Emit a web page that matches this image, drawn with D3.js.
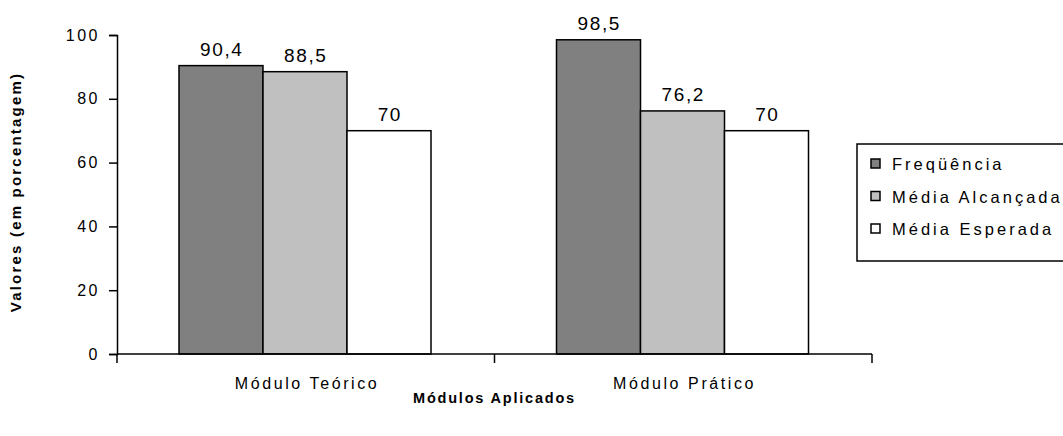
<!DOCTYPE html>
<html>
<head>
<meta charset="utf-8">
<script src="https://cdn.jsdelivr.net/npm/d3@7"></script>
<style>
  body { margin: 0; background: #fff; }
  text { font-family: "Liberation Sans", Arial, sans-serif; fill: #000; }
</style>
</head>
<body>
<div id="chart"></div>
<script>
const width = 1063,
    height = 436;

// data
const categories = ["Módulo Teórico", "Módulo Prático"];
const series = ["Freqüência", "Média Alcançada", "Média Esperada"];
const freq = [90.4, 98.5];
const alcancada = [88.5, 76.2];
const esperada = [70, 70];
const yTicks = [0, 20, 40, 60, 80, 100];

const colors = ["#808080", "#c0c0c0", "#ffffff"];
const values = [freq, alcancada, esperada];

const margin = {left: 117, right: 191, top: 35, bottom: 82};

const svg = d3.select("#chart")
  .append("svg")
  .attr("width", width)
  .attr("height", height);

const x0 = d3.scaleBand()
  .domain(categories)
  .range([margin.left, width - margin.right]);

const x1 = d3.scaleBand()
  .domain(series)
  .range([62, 62 + 84 * 3]);

const y = d3.scaleLinear()
  .domain([0, 100])
  .range([height - margin.bottom, margin.top]);

// bars
const rows = [];
categories.forEach((c, i) => {
  series.forEach((s, j) => {
    rows.push({cat: c, ser: s, val: values[j][i], color: colors[j]});
  });
});

svg.selectAll(".bar")
  .data(rows)
  .enter().append("rect")
  .attr("class", "bar")
  .attr("x", d => x0(d.cat) + x1(d.ser))
  .attr("y", d => y(d.val))
  .attr("width", x1.bandwidth())
  .attr("height", d => y(0) - y(d.val))
  .attr("fill", d => d.color)
  .attr("stroke", "#000")
  .attr("stroke-width", 1.5);

svg.selectAll(".lbl")
  .data(rows)
  .enter().append("text")
  .attr("class", "lbl")
  .attr("x", d => x0(d.cat) + x1(d.ser) + x1.bandwidth() / 2 + 0.8)
  .attr("y", d => y(d.val) - 10)
  .attr("text-anchor", "middle")
  .attr("font-size", 19)
  .attr("letter-spacing", 1.6)
  .text(d => String(d.val).replace(".", ","));

// y axis
const yAxis = svg.append("g")
  .attr("transform", `translate(${margin.left},0)`)
  .call(d3.axisLeft(y).tickValues(yTicks).tickSize(8).tickPadding(9));
yAxis.select(".domain").attr("stroke-width", 1.5);
yAxis.selectAll(".tick line").attr("stroke-width", 1.5);
yAxis.selectAll("text")
  .attr("font-size", 16)
  .attr("letter-spacing", 2.5)
  .attr("font-family", "Liberation Sans, Arial, sans-serif")
  .attr("fill", "#000");

// x axis
const xg = svg.append("g")
  .attr("transform", `translate(0,${y(0)})`);
xg.append("line")
  .attr("x1", margin.left).attr("x2", width - margin.right)
  .attr("stroke", "#000").attr("stroke-width", 1.5);
const bounds = [margin.left].concat(categories.map(c => x0(c) + x0.bandwidth()));
xg.selectAll(".xt")
  .data(bounds)
  .enter().append("line")
  .attr("x1", d => d).attr("x2", d => d)
  .attr("y1", 0).attr("y2", 9)
  .attr("stroke", "#000").attr("stroke-width", 1.5);
xg.selectAll(".xl")
  .data(categories)
  .enter().append("text")
  .attr("x", d => x0(d) + x0.bandwidth() / 2 + 1.3)
  .attr("y", 35)
  .attr("text-anchor", "middle")
  .attr("font-size", 16)
  .attr("letter-spacing", 2.6)
  .text(d => d);

// axis titles
svg.append("text")
  .attr("x", x0(categories[0]) + x0.bandwidth())
  .attr("y", 403)
  .attr("text-anchor", "middle")
  .attr("font-size", 14.5)
  .attr("font-weight", "bold")
  .attr("letter-spacing", 1.8)
  .text("Módulos Aplicados");

svg.append("text")
  .attr("transform", `translate(21,192) rotate(-90)`)
  .attr("text-anchor", "middle")
  .attr("font-size", 15)
  .attr("font-weight", "bold")
  .attr("letter-spacing", 2.2)
  .text("Valores (em porcentagem)");

// legend
const legend = svg.append("g").attr("transform", "translate(857,144)");
legend.append("rect")
  .attr("width", 230).attr("height", 117)
  .attr("fill", "#fff").attr("stroke", "#000").attr("stroke-width", 1.5);
const items = legend.selectAll(".item")
  .data(series)
  .enter().append("g")
  .attr("transform", (d, i) => `translate(14,${20 + i * 32.5})`);
items.append("rect")
  .attr("x", 0).attr("y", -5)
  .attr("width", 9).attr("height", 9)
  .attr("fill", (d, i) => colors[i])
  .attr("stroke", "#000").attr("stroke-width", 1.5);
items.append("text")
  .attr("x", 21).attr("y", 6)
  .attr("font-size", 16.5)
  .attr("letter-spacing", 3)
  .text(d => d);
</script>
</body>
</html>
